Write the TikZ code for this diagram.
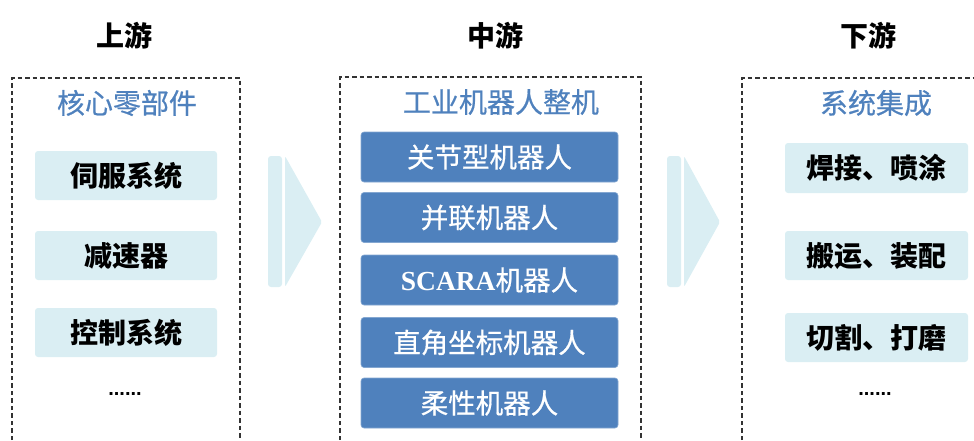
\documentclass[tikz,border=0pt]{standalone}
\usepackage{fontspec}
\setmainfont{Noto Sans CJK SC}
\newfontfamily\serfont{Liberation Serif}
\newfontfamily\latfont{Liberation Sans}
\newfontfamily\medfont[FakeBold=0.6]{Noto Sans CJK SC}
\definecolor{lightfill}{HTML}{DAEEF3}
\definecolor{darkfill}{HTML}{4F81BD}
\definecolor{titleblue}{HTML}{4F81BD}
\definecolor{dashgray}{HTML}{333333}
\begin{document}
\begin{tikzpicture}[x=1pt,y=-1pt,
  header/.style={font=\bfseries\fontsize{28}{28}\selectfont, text=black, inner sep=0pt},
  grouptitle/.style={font=\medfont\fontsize{28}{28}\selectfont, text=titleblue, inner sep=0pt},
  lightbox/.style={fill=lightfill, rounded corners=3pt, inner sep=0pt, outer sep=0pt,
    font=\bfseries\fontsize{28}{28}\selectfont, text=black},
  darkbox/.style={fill=darkfill, draw=darkfill!70!white, line width=0.6pt, rounded corners=3pt, inner sep=0pt, outer sep=0pt,
    minimum width=257pt, minimum height=50pt, font=\medfont\fontsize{27.5}{27.5}\selectfont, text=white},
  dots/.style={font=\latfont\bfseries\fontsize{20}{20}\selectfont, text=black, inner sep=0pt},
  groupframe/.style={draw=dashgray, line width=1.4pt, dash pattern=on 4.5pt off 3pt},
  arrowpart/.style={fill=lightfill}
]
\useasboundingbox (0,0) rectangle (974,440);

% headers
\node[header] (hup) at (124,36) {上游};
\node[header] (hmid) at (495,36) {中游};
\node[header] (hdown) at (868,36) {下游};

% dashed frames
\draw[groupframe] (12,440) -- (12,78) -- (240,78) -- (240,440);
\draw[groupframe] (340,440) -- (340,77) -- (641,77) -- (641,440);
\draw[groupframe] (742,440) -- (742,78) -- (974,78);

% group titles
\node[grouptitle] (tleft) at (127,103) {核心零部件};
\node[grouptitle] (tmid) at (501,102) {工业机器人整机};
\node[grouptitle] (tright) at (876,103) {系统集成};

% left items
\node[lightbox, minimum width=182pt, minimum height=49pt] (l1) at (126,175.5) {伺服系统};
\node[lightbox, minimum width=182pt, minimum height=49pt] (l2) at (126,255.5) {减速器};
\node[lightbox, minimum width=182pt, minimum height=49pt] (l3) at (126,332.5) {控制系统};
\node[dots] (ldots) at (125,394) {......};

% middle items
\node[darkbox] (m1) at (489.5,157) {关节型机器人};
\node[darkbox] (m2) at (489.5,217.5) {并联机器人};
\node[darkbox] (m3) at (489.5,280) {{\serfont\bfseries SCARA}机器人};
\node[darkbox] (m4) at (489.5,342.5) {直角坐标机器人};
\node[darkbox] (m5) at (489.5,403) {柔性机器人};

% right items
\node[lightbox, minimum width=183pt, minimum height=50pt] (r1) at (876.5,168) {焊接、喷涂};
\node[lightbox, minimum width=183pt, minimum height=49pt] (r2) at (876.5,255.5) {搬运、装配};
\node[lightbox, minimum width=183pt, minimum height=49pt] (r3) at (876.5,337.5) {切割、打磨};
\node[dots] (rdots) at (875,394) {......};

% flow arrows
\fill[arrowpart, rounded corners=3pt] (268,156) rectangle (282,287);
\fill[arrowpart, rounded corners=2pt] (285,156) -- (322,222) -- (285,287) -- cycle;
\fill[arrowpart, rounded corners=3pt] (667,156) rectangle (681,287);
\fill[arrowpart, rounded corners=2pt] (684,156) -- (720,222) -- (684,287) -- cycle;
\end{tikzpicture}
\end{document}
